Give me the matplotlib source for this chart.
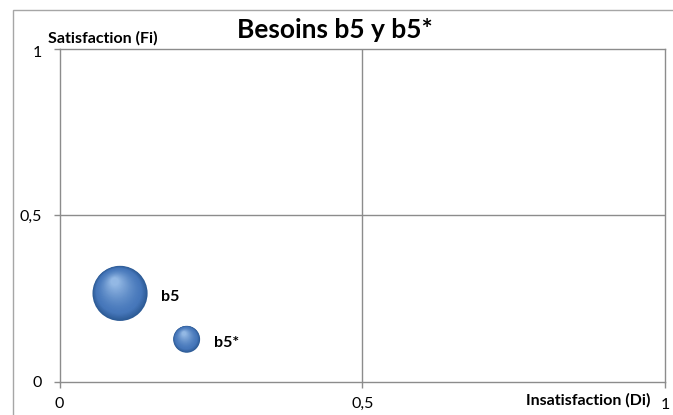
import numpy as np
import matplotlib.pyplot as plt
from matplotlib.colors import to_rgb
from matplotlib.patches import Rectangle
from matplotlib.transforms import offset_copy

plt.rcParams['font.family'] = ['Lato', 'DejaVu Sans']

# data
labels = ['b5', 'b5*']
insatisfaction = [0.10, 0.21]   # Di
satisfaction = [0.265, 0.127]   # Fi
bubble_size = [4.2, 1.0]
ticks = [0, 0.5, 1]
tick_labels = ['0', '0,5', '1']

fig = plt.figure(figsize=(6.73, 4.15), dpi=100)
ax = fig.add_axes([59.5 / 673, 33.5 / 415, 605.5 / 673, 332.5 / 415])

# outer chart border
fig.patches.append(Rectangle((12.5 / 673, -0.01), 1.0, (415 - 10) / 415 + 0.01,
                             transform=fig.transFigure, fill=False,
                             edgecolor='#a6a6a6', lw=1.0))

ax.set_xlim(0, 1)
ax.set_ylim(0, 1)
for s in ax.spines.values():
    s.set_color('#8c8c8c')
    s.set_linewidth(1.0)
ax.axvline(0.5, color='#8c8c8c', lw=1.0)
ax.axhline(0.5, color='#8c8c8c', lw=1.0)

ax.set_xticks(ticks)
ax.set_xticklabels(tick_labels)
ax.set_yticks(ticks)
ax.set_yticklabels(tick_labels)
ax.tick_params(axis='both', direction='out', length=4, color='#8c8c8c',
               labelsize=11.5, width=1.0)
ax.tick_params(axis='x', pad=7)
ax.tick_params(axis='y', pad=9)
xl = ax.get_xticklabels()
xl[2].set_transform(offset_copy(xl[2].get_transform(), fig, x=0, y=-1, units='points'))
yl = ax.get_yticklabels()
yl[2].set_transform(offset_copy(yl[2].get_transform(), fig, x=0, y=-2, units='points'))

# shaded "3D" bubbles
dark = np.array(to_rgb('#2d5b96'))
mid = np.array(to_rgb('#4677ba'))
light = np.array(to_rgb('#93b8e4'))
scale = 375
N = 30
for x, y, sz in zip(insatisfaction, satisfaction, bubble_size):
    d = np.sqrt(sz * scale)
    for k in range(N):
        f = k / (N - 1)
        dk = d * (1 - 0.85 * f)
        shift = (d - dk) / 2 * 0.5
        if f < 0.2:
            col = dark + (mid - dark) * (f / 0.2)
        else:
            col = mid + (light - mid) * ((f - 0.2) / 0.8) ** 1.4
        tr = offset_copy(ax.transData, fig, x=-0.45 * shift, y=shift, units='points')
        ax.scatter([x], [y], s=dk ** 2, color=col, edgecolors='none',
                   transform=tr, zorder=3 + k * 0.01, clip_on=False)

for x, y, sz, lab in zip(insatisfaction, satisfaction, bubble_size, labels):
    r = np.sqrt(sz * scale) / 2
    ax.annotate(lab, (x, y), xytext=(r + 10, -2.5), textcoords='offset points',
                ha='left', va='center', fontsize=11.5, fontweight='bold')

fig.text(335 / 673, 1 - 30 / 415, 'Besoins b5 y b5*', ha='center', va='center',
         fontsize=19, fontweight='bold')
fig.text(48 / 673, 1 - 38 / 415, 'Satisfaction (Fi)', ha='left', va='center',
         fontsize=11.5, fontweight='bold')
fig.text(651 / 673, 1 - 400 / 415, 'Insatisfaction (Di)', ha='right', va='center',
         fontsize=11.5, fontweight='bold')

fig.savefig('out.png', dpi=100)
